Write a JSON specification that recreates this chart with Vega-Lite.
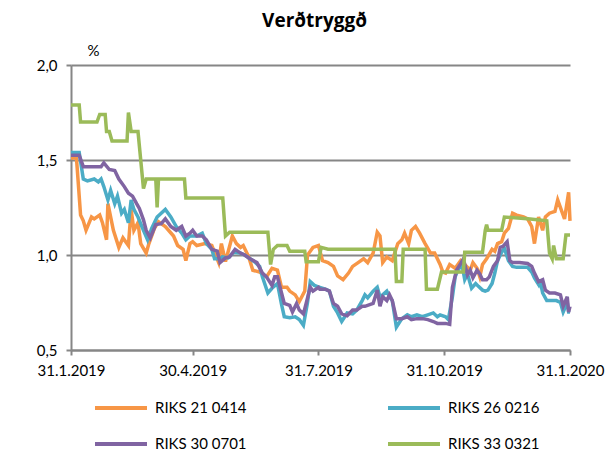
{
"$schema":"https://vega.github.io/schema/vega-lite/v6.json",
"width":499,"height":285,
"autosize":"none",
"padding":{"left":71,"top":65,"right":41,"bottom":102},
"background":"white",
"title":{"text":"Verðtryggð","font":"Open Sans","fontSize":19,"fontWeight":"bold","color":"black","anchor":"middle","dx":-6,"offset":12},
"config":{"view":{"stroke":null}},
"datasets":{
"O":[
{"d":"2019-01-31","v":1.51},{"d":"2019-02-04","v":1.51},{"d":"2019-02-07","v":1.21},{"d":"2019-02-09","v":1.18},{"d":"2019-02-11","v":1.13},{"d":"2019-02-15","v":1.20},{"d":"2019-02-17","v":1.19},{"d":"2019-02-21","v":1.21},{"d":"2019-02-23","v":1.17},{"d":"2019-02-26","v":1.08},{"d":"2019-02-27","v":1.27},{"d":"2019-03-03","v":1.13},{"d":"2019-03-07","v":1.04},{"d":"2019-03-10","v":1.09},{"d":"2019-03-14","v":1.05},{"d":"2019-03-16","v":1.24},{"d":"2019-03-18","v":1.13},{"d":"2019-03-21","v":1.17},{"d":"2019-03-23","v":1.06},{"d":"2019-03-27","v":1.01},{"d":"2019-03-29","v":1.06},{"d":"2019-04-02","v":1.14},{"d":"2019-04-05","v":1.175},{"d":"2019-04-10","v":1.15},{"d":"2019-04-16","v":1.10},{"d":"2019-04-19","v":1.05},{"d":"2019-04-23","v":1.03},{"d":"2019-04-25","v":0.97},{"d":"2019-04-28","v":1.06},{"d":"2019-04-30","v":1.07},{"d":"2019-05-03","v":1.05},{"d":"2019-05-09","v":1.06},{"d":"2019-05-14","v":1.05},{"d":"2019-05-19","v":0.96},{"d":"2019-05-21","v":1.06},{"d":"2019-05-24","v":0.965},{"d":"2019-05-29","v":1.10},{"d":"2019-06-01","v":1.06},{"d":"2019-06-04","v":1.04},{"d":"2019-06-06","v":1.05},{"d":"2019-06-10","v":0.99},{"d":"2019-06-13","v":0.92},{"d":"2019-06-18","v":0.91},{"d":"2019-06-23","v":0.885},{"d":"2019-06-27","v":0.93},{"d":"2019-07-01","v":0.92},{"d":"2019-07-04","v":0.83},{"d":"2019-07-08","v":0.83},{"d":"2019-07-10","v":0.81},{"d":"2019-07-14","v":0.79},{"d":"2019-07-17","v":0.755},{"d":"2019-07-21","v":0.81},{"d":"2019-07-23","v":1.00},{"d":"2019-07-27","v":1.04},{"d":"2019-07-31","v":1.05},{"d":"2019-08-03","v":0.97},{"d":"2019-08-07","v":0.96},{"d":"2019-08-11","v":0.94},{"d":"2019-08-14","v":0.89},{"d":"2019-08-18","v":0.87},{"d":"2019-08-22","v":0.905},{"d":"2019-08-25","v":0.94},{"d":"2019-08-29","v":0.96},{"d":"2019-09-02","v":0.98},{"d":"2019-09-05","v":0.96},{"d":"2019-09-09","v":1.01},{"d":"2019-09-12","v":1.12},{"d":"2019-09-14","v":1.10},{"d":"2019-09-16","v":0.96},{"d":"2019-09-19","v":0.99},{"d":"2019-09-23","v":0.97},{"d":"2019-09-27","v":1.06},{"d":"2019-09-30","v":1.08},{"d":"2019-10-02","v":1.115},{"d":"2019-10-05","v":1.06},{"d":"2019-10-07","v":1.13},{"d":"2019-10-10","v":1.15},{"d":"2019-10-13","v":1.115},{"d":"2019-10-17","v":1.06},{"d":"2019-10-21","v":1.01},{"d":"2019-10-24","v":1.01},{"d":"2019-10-28","v":0.95},{"d":"2019-10-30","v":0.91},{"d":"2019-11-01","v":0.905},{"d":"2019-11-04","v":0.95},{"d":"2019-11-08","v":0.93},{"d":"2019-11-12","v":0.97},{"d":"2019-11-15","v":0.95},{"d":"2019-11-19","v":0.92},{"d":"2019-11-21","v":0.96},{"d":"2019-11-24","v":0.93},{"d":"2019-11-26","v":0.885},{"d":"2019-11-28","v":0.95},{"d":"2019-12-01","v":0.98},{"d":"2019-12-05","v":1.03},{"d":"2019-12-07","v":1.02},{"d":"2019-12-09","v":1.06},{"d":"2019-12-12","v":1.07},{"d":"2019-12-14","v":1.115},{"d":"2019-12-17","v":1.14},{"d":"2019-12-20","v":1.22},{"d":"2019-12-23","v":1.21},{"d":"2019-12-28","v":1.20},{"d":"2019-12-31","v":1.19},{"d":"2020-01-03","v":1.15},{"d":"2020-01-05","v":1.06},{"d":"2020-01-08","v":1.20},{"d":"2020-01-11","v":1.13},{"d":"2020-01-13","v":1.20},{"d":"2020-01-16","v":1.22},{"d":"2020-01-20","v":1.23},{"d":"2020-01-22","v":1.29},{"d":"2020-01-25","v":1.23},{"d":"2020-01-27","v":1.19},{"d":"2020-01-30","v":1.33},{"d":"2020-01-31","v":1.18}
],
"B":[
{"d":"2019-01-31","v":1.54},{"d":"2019-02-06","v":1.54},{"d":"2019-02-09","v":1.40},{"d":"2019-02-12","v":1.39},{"d":"2019-02-17","v":1.40},{"d":"2019-02-20","v":1.385},{"d":"2019-02-22","v":1.40},{"d":"2019-02-24","v":1.36},{"d":"2019-02-27","v":1.29},{"d":"2019-03-01","v":1.34},{"d":"2019-03-04","v":1.27},{"d":"2019-03-06","v":1.31},{"d":"2019-03-09","v":1.22},{"d":"2019-03-11","v":1.24},{"d":"2019-03-14","v":1.17},{"d":"2019-03-16","v":1.29},{"d":"2019-03-18","v":1.24},{"d":"2019-03-21","v":1.20},{"d":"2019-03-25","v":1.13},{"d":"2019-03-28","v":1.08},{"d":"2019-03-31","v":1.14},{"d":"2019-04-04","v":1.20},{"d":"2019-04-10","v":1.24},{"d":"2019-04-14","v":1.20},{"d":"2019-04-18","v":1.15},{"d":"2019-04-22","v":1.115},{"d":"2019-04-25","v":1.08},{"d":"2019-04-28","v":1.10},{"d":"2019-05-03","v":1.10},{"d":"2019-05-07","v":1.115},{"d":"2019-05-10","v":1.06},{"d":"2019-05-14","v":1.03},{"d":"2019-05-16","v":0.98},{"d":"2019-05-20","v":0.98},{"d":"2019-05-22","v":0.99},{"d":"2019-05-26","v":0.985},{"d":"2019-05-30","v":1.015},{"d":"2019-06-04","v":1.01},{"d":"2019-06-07","v":1.00},{"d":"2019-06-11","v":0.98},{"d":"2019-06-15","v":0.96},{"d":"2019-06-18","v":0.94},{"d":"2019-06-20","v":0.885},{"d":"2019-06-24","v":0.80},{"d":"2019-06-27","v":0.825},{"d":"2019-07-01","v":0.85},{"d":"2019-07-04","v":0.74},{"d":"2019-07-06","v":0.675},{"d":"2019-07-10","v":0.67},{"d":"2019-07-14","v":0.675},{"d":"2019-07-17","v":0.66},{"d":"2019-07-20","v":0.63},{"d":"2019-07-23","v":0.75},{"d":"2019-07-25","v":0.86},{"d":"2019-07-28","v":0.84},{"d":"2019-08-01","v":0.83},{"d":"2019-08-05","v":0.82},{"d":"2019-08-08","v":0.81},{"d":"2019-08-11","v":0.73},{"d":"2019-08-14","v":0.695},{"d":"2019-08-17","v":0.65},{"d":"2019-08-21","v":0.695},{"d":"2019-08-25","v":0.69},{"d":"2019-08-28","v":0.71},{"d":"2019-09-01","v":0.76},{"d":"2019-09-03","v":0.79},{"d":"2019-09-05","v":0.775},{"d":"2019-09-09","v":0.81},{"d":"2019-09-12","v":0.83},{"d":"2019-09-14","v":0.78},{"d":"2019-09-16","v":0.79},{"d":"2019-09-19","v":0.81},{"d":"2019-09-21","v":0.78},{"d":"2019-09-23","v":0.76},{"d":"2019-09-26","v":0.62},{"d":"2019-09-30","v":0.665},{"d":"2019-10-04","v":0.685},{"d":"2019-10-07","v":0.675},{"d":"2019-10-11","v":0.685},{"d":"2019-10-15","v":0.675},{"d":"2019-10-19","v":0.685},{"d":"2019-10-23","v":0.695},{"d":"2019-10-26","v":0.675},{"d":"2019-10-28","v":0.685},{"d":"2019-11-01","v":0.675},{"d":"2019-11-03","v":0.66},{"d":"2019-11-06","v":0.78},{"d":"2019-11-08","v":0.885},{"d":"2019-11-10","v":0.92},{"d":"2019-11-13","v":0.95},{"d":"2019-11-15","v":0.87},{"d":"2019-11-17","v":0.90},{"d":"2019-11-20","v":0.825},{"d":"2019-11-23","v":0.85},{"d":"2019-11-25","v":0.835},{"d":"2019-11-28","v":0.815},{"d":"2019-11-30","v":0.81},{"d":"2019-12-02","v":0.815},{"d":"2019-12-05","v":0.85},{"d":"2019-12-07","v":0.905},{"d":"2019-12-09","v":0.97},{"d":"2019-12-12","v":1.015},{"d":"2019-12-14","v":1.035},{"d":"2019-12-17","v":0.97},{"d":"2019-12-20","v":0.94},{"d":"2019-12-23","v":0.935},{"d":"2019-12-28","v":0.935},{"d":"2019-12-31","v":0.935},{"d":"2020-01-03","v":0.91},{"d":"2020-01-05","v":0.88},{"d":"2020-01-08","v":0.845},{"d":"2020-01-09","v":0.87},{"d":"2020-01-11","v":0.80},{"d":"2020-01-14","v":0.76},{"d":"2020-01-18","v":0.76},{"d":"2020-01-21","v":0.76},{"d":"2020-01-24","v":0.75},{"d":"2020-01-26","v":0.70},{"d":"2020-01-29","v":0.75},{"d":"2020-01-30","v":0.70},{"d":"2020-01-31","v":0.70}
],
"P":[
{"d":"2019-01-31","v":1.525},{"d":"2019-02-06","v":1.525},{"d":"2019-02-09","v":1.465},{"d":"2019-02-22","v":1.465},{"d":"2019-02-24","v":1.485},{"d":"2019-02-28","v":1.45},{"d":"2019-03-04","v":1.445},{"d":"2019-03-07","v":1.40},{"d":"2019-03-11","v":1.36},{"d":"2019-03-14","v":1.325},{"d":"2019-03-17","v":1.31},{"d":"2019-03-20","v":1.27},{"d":"2019-03-22","v":1.245},{"d":"2019-03-25","v":1.185},{"d":"2019-03-27","v":1.13},{"d":"2019-03-30","v":1.09},{"d":"2019-04-03","v":1.16},{"d":"2019-04-07","v":1.165},{"d":"2019-04-10","v":1.19},{"d":"2019-04-14","v":1.15},{"d":"2019-04-18","v":1.13},{"d":"2019-04-22","v":1.15},{"d":"2019-04-25","v":1.10},{"d":"2019-04-28","v":1.115},{"d":"2019-04-30","v":1.13},{"d":"2019-05-03","v":1.10},{"d":"2019-05-07","v":1.10},{"d":"2019-05-10","v":1.08},{"d":"2019-05-14","v":1.03},{"d":"2019-05-18","v":1.02},{"d":"2019-05-20","v":0.96},{"d":"2019-05-24","v":0.985},{"d":"2019-05-27","v":0.99},{"d":"2019-05-31","v":1.03},{"d":"2019-06-04","v":1.01},{"d":"2019-06-07","v":1.00},{"d":"2019-06-11","v":0.98},{"d":"2019-06-16","v":0.96},{"d":"2019-06-20","v":0.905},{"d":"2019-06-23","v":0.885},{"d":"2019-06-27","v":0.84},{"d":"2019-06-29","v":0.885},{"d":"2019-07-01","v":0.885},{"d":"2019-07-04","v":0.80},{"d":"2019-07-06","v":0.745},{"d":"2019-07-10","v":0.735},{"d":"2019-07-12","v":0.70},{"d":"2019-07-15","v":0.745},{"d":"2019-07-17","v":0.71},{"d":"2019-07-20","v":0.69},{"d":"2019-07-22","v":0.745},{"d":"2019-07-25","v":0.83},{"d":"2019-07-27","v":0.81},{"d":"2019-07-31","v":0.83},{"d":"2019-08-01","v":0.82},{"d":"2019-08-05","v":0.82},{"d":"2019-08-08","v":0.81},{"d":"2019-08-11","v":0.745},{"d":"2019-08-14","v":0.73},{"d":"2019-08-17","v":0.69},{"d":"2019-08-21","v":0.68},{"d":"2019-08-25","v":0.71},{"d":"2019-08-28","v":0.71},{"d":"2019-09-01","v":0.73},{"d":"2019-09-03","v":0.73},{"d":"2019-09-07","v":0.74},{"d":"2019-09-09","v":0.745},{"d":"2019-09-12","v":0.815},{"d":"2019-09-14","v":0.73},{"d":"2019-09-16","v":0.78},{"d":"2019-09-19","v":0.76},{"d":"2019-09-21","v":0.79},{"d":"2019-09-23","v":0.76},{"d":"2019-09-26","v":0.665},{"d":"2019-09-30","v":0.665},{"d":"2019-10-04","v":0.675},{"d":"2019-10-07","v":0.66},{"d":"2019-10-11","v":0.665},{"d":"2019-10-15","v":0.665},{"d":"2019-10-19","v":0.66},{"d":"2019-10-23","v":0.65},{"d":"2019-10-26","v":0.64},{"d":"2019-11-01","v":0.64},{"d":"2019-11-04","v":0.635},{"d":"2019-11-06","v":0.83},{"d":"2019-11-09","v":0.92},{"d":"2019-11-12","v":0.955},{"d":"2019-11-14","v":0.98},{"d":"2019-11-17","v":0.895},{"d":"2019-11-19","v":0.92},{"d":"2019-11-21","v":0.88},{"d":"2019-11-24","v":0.92},{"d":"2019-11-26","v":0.90},{"d":"2019-11-28","v":0.87},{"d":"2019-12-01","v":0.87},{"d":"2019-12-03","v":0.885},{"d":"2019-12-06","v":0.94},{"d":"2019-12-09","v":0.97},{"d":"2019-12-11","v":1.04},{"d":"2019-12-13","v":1.045},{"d":"2019-12-16","v":1.07},{"d":"2019-12-18","v":0.97},{"d":"2019-12-20","v":0.96},{"d":"2019-12-25","v":0.96},{"d":"2019-12-31","v":0.955},{"d":"2020-01-03","v":0.94},{"d":"2020-01-05","v":0.905},{"d":"2020-01-08","v":0.86},{"d":"2020-01-11","v":0.87},{"d":"2020-01-13","v":0.815},{"d":"2020-01-16","v":0.80},{"d":"2020-01-20","v":0.80},{"d":"2020-01-24","v":0.79},{"d":"2020-01-26","v":0.73},{"d":"2020-01-29","v":0.78},{"d":"2020-01-30","v":0.70},{"d":"2020-01-31","v":0.73}
],
"G":[
{"d":"2019-01-31","v":1.79},{"d":"2019-02-06","v":1.79},{"d":"2019-02-07","v":1.70},{"d":"2019-02-19","v":1.70},{"d":"2019-02-21","v":1.74},{"d":"2019-02-25","v":1.74},{"d":"2019-02-26","v":1.65},{"d":"2019-02-28","v":1.65},{"d":"2019-03-02","v":1.60},{"d":"2019-03-13","v":1.60},{"d":"2019-03-14","v":1.75},{"d":"2019-03-16","v":1.65},{"d":"2019-03-21","v":1.65},{"d":"2019-03-25","v":1.35},{"d":"2019-03-27","v":1.40},{"d":"2019-04-03","v":1.40},{"d":"2019-04-04","v":1.25},{"d":"2019-04-05","v":1.40},{"d":"2019-04-24","v":1.40},{"d":"2019-04-25","v":1.30},{"d":"2019-05-22","v":1.30},{"d":"2019-05-24","v":1.10},{"d":"2019-05-27","v":1.12},{"d":"2019-06-24","v":1.12},{"d":"2019-06-26","v":0.95},{"d":"2019-06-28","v":1.03},{"d":"2019-07-01","v":1.05},{"d":"2019-07-08","v":1.05},{"d":"2019-07-10","v":1.02},{"d":"2019-07-21","v":1.02},{"d":"2019-07-22","v":0.965},{"d":"2019-07-31","v":0.965},{"d":"2019-08-02","v":1.04},{"d":"2019-08-07","v":1.03},{"d":"2019-09-25","v":1.03},{"d":"2019-09-26","v":0.86},{"d":"2019-09-30","v":0.86},{"d":"2019-10-01","v":1.03},{"d":"2019-10-17","v":1.03},{"d":"2019-10-18","v":0.82},{"d":"2019-10-26","v":0.82},{"d":"2019-10-29","v":0.91},{"d":"2019-11-14","v":0.91},{"d":"2019-11-15","v":1.015},{"d":"2019-11-28","v":1.015},{"d":"2019-11-30","v":1.13},{"d":"2019-12-01","v":1.16},{"d":"2019-12-02","v":1.13},{"d":"2019-12-12","v":1.13},{"d":"2019-12-14","v":1.20},{"d":"2020-01-02","v":1.19},{"d":"2020-01-14","v":1.18},{"d":"2020-01-16","v":1.01},{"d":"2020-01-18","v":0.98},{"d":"2020-01-19","v":1.05},{"d":"2020-01-21","v":0.98},{"d":"2020-01-26","v":0.98},{"d":"2020-01-28","v":1.105},{"d":"2020-01-31","v":1.105}
]
},
"encoding":{
"x":{"field":"d","type":"temporal","title":null,
"scale":{"type":"utc","nice":false,"domain":[{"year":2019,"month":1,"date":31,"utc":true},{"year":2020,"month":1,"date":31,"utc":true}]},
"axis":{"values":[{"year":2019,"month":1,"date":31,"utc":true},{"year":2019,"month":4,"date":30,"utc":true},{"year":2019,"month":7,"date":31,"utc":true},{"year":2019,"month":10,"date":31,"utc":true},{"year":2020,"month":1,"date":31,"utc":true}],
"labelExpr":"utcFormat(datum.value,'%-d.%-m.%Y')","grid":false,"domainColor":"#868686","domainWidth":2,"tickColor":"#868686","tickWidth":2,"tickSize":5,"labelPadding":8,"labelFont":"Lato","labelFontSize":15,"labelColor":"black","labelOverlap":false,"labelFlush":false,"labelBound":false}},
"y":{"field":"v","type":"quantitative",
"scale":{"domain":[0.5,2.0],"nice":false,"zero":false},
"axis":{"values":[0.5,1.0,1.5,2.0],"labelExpr":"replace(format(datum.value,'.1f'),'.',',')","grid":true,"gridColor":"#868686","gridWidth":2,"domainColor":"#868686","domainWidth":2,"tickColor":"#868686","tickWidth":2,"tickSize":5,"labelPadding":9,"labelFont":"Lato","labelFontSize":15,"labelColor":"black",
"title":"%","titleAngle":0,"titleX":22,"titleY":-15,"titleAlign":"center","titleBaseline":"middle","titleFont":"Lato","titleFontSize":15,"titleFontWeight":"normal","titleColor":"black"}}
},
"layer":[
{"data":{"name":"O"},"mark":{"type":"line","strokeWidth":3.5},"encoding":{"color":{"datum":"RIKS 21 0414","type":"nominal",
"scale":{"domain":["RIKS 21 0414","RIKS 26 0216","RIKS 30 0701","RIKS 33 0321"],"range":["#F79646","#4BACC6","#8064A2","#9BBB59"]},
"legend":{"title":null,"orient":"none","legendX":22,"legendY":315,"direction":"horizontal","columns":2,"symbolType":"stroke","symbolSize":2704,"symbolStrokeWidth":4,"labelFont":"Lato","labelFontSize":15,"labelColor":"black","labelOffset":6,"columnPadding":133,"rowPadding":-15}}}},
{"data":{"name":"B"},"mark":{"type":"line","strokeWidth":3.5},"encoding":{"color":{"datum":"RIKS 26 0216","type":"nominal"}}},
{"data":{"name":"P"},"mark":{"type":"line","strokeWidth":3.5},"encoding":{"color":{"datum":"RIKS 30 0701","type":"nominal"}}},
{"data":{"name":"G"},"mark":{"type":"line","strokeWidth":3.5},"encoding":{"color":{"datum":"RIKS 33 0321","type":"nominal"}}}
]
}
